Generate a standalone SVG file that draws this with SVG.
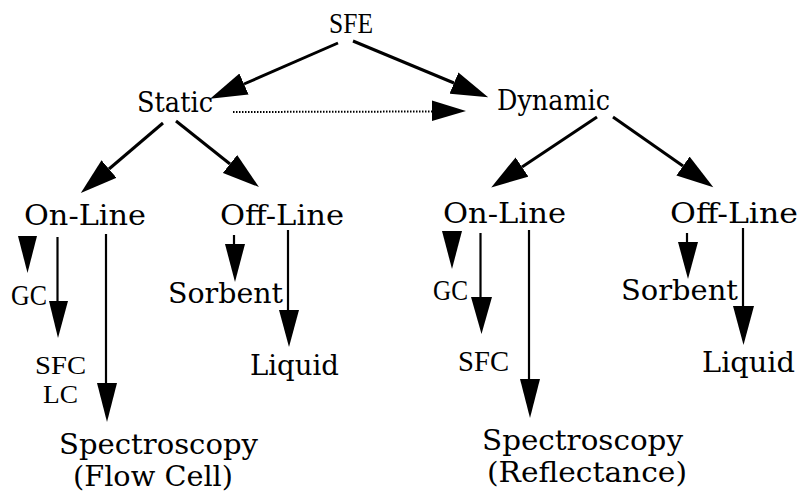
<svg xmlns="http://www.w3.org/2000/svg" width="803" height="500" viewBox="0 0 803 500">
  <style>
    text { font-family: "DejaVu Serif", "Liberation Serif", serif; font-size: 27px; fill: #000; }
    text.caps { font-family: "Liberation Serif", "DejaVu Serif", serif; font-size: 30px; }
    text.caps.tight { font-size: 26px; }
    .link { stroke: #000; stroke-width: 3; fill: none; }
    .drop { stroke: #000; stroke-width: 2.2; fill: none; }
    .dots { stroke: #000; stroke-width: 2; stroke-dasharray: 1.5 1.5; fill: none; }
    .head { fill: #000; }
  </style>
  <defs>
    <marker id="arrow" markerUnits="userSpaceOnUse" markerWidth="38" markerHeight="24" refX="0" refY="12" orient="auto">
      <path d="M0,0.5 L37,12 L0,23.5 z" fill="#000"/>
    </marker>
  </defs>
  <rect width="803" height="500" fill="#fff"/>

  <g id="connectors">
    <!-- top level -->
    <line class="link" x1="338" y1="43" x2="244" y2="84" marker-end="url(#arrow)"/>
    <line class="link" x1="353" y1="41" x2="454" y2="83" marker-end="url(#arrow)"/>
    <line class="dots" x1="233" y1="112" x2="432" y2="111.5"/>
    <polygon class="head" points="432,100.5 466,111 432,121"/>
    <!-- second level -->
    <line class="link" x1="163" y1="123" x2="109" y2="169" marker-end="url(#arrow)"/>
    <line class="link" x1="176" y1="121" x2="230" y2="164" marker-end="url(#arrow)"/>
    <line class="link" x1="597" y1="117" x2="522" y2="167" marker-end="url(#arrow)"/>
    <line class="link" x1="613" y1="117" x2="683" y2="166" marker-end="url(#arrow)"/>
    <!-- static on-line drops -->
    <polygon class="head" points="18,236 37,236 27.5,273"/>
    <line class="drop" x1="57.5" y1="237" x2="57.5" y2="302"/>
    <polygon class="head" points="49,301 68,301 58,338"/>
    <line class="drop" x1="106" y1="234" x2="106" y2="384"/>
    <polygon class="head" points="97,383 117,383 107,422"/>
    <!-- static off-line drops -->
    <line class="drop" x1="234" y1="235" x2="234" y2="245"/>
    <polygon class="head" points="225,244 245,244 235,282"/>
    <line class="drop" x1="288" y1="230" x2="288" y2="311"/>
    <polygon class="head" points="279,310 299,310 289,347"/>
    <!-- dynamic on-line drops -->
    <polygon class="head" points="442,231 462,231 452,269"/>
    <line class="drop" x1="480.5" y1="233" x2="480.5" y2="298"/>
    <polygon class="head" points="471,297 492,297 481.5,334"/>
    <line class="drop" x1="529" y1="230" x2="529" y2="380"/>
    <polygon class="head" points="520,379 540,379 530,418"/>
    <!-- dynamic off-line drops -->
    <line class="drop" x1="687" y1="233" x2="687" y2="243"/>
    <polygon class="head" points="678,242 698,242 688,279"/>
    <line class="drop" x1="743" y1="228" x2="743" y2="307"/>
    <polygon class="head" points="733,306 754,306 743.5,345"/>
  </g>

  <g id="sfe"><text class="caps" x="329" y="33" textLength="44" lengthAdjust="spacingAndGlyphs">SFE</text></g>
  <g id="static"><text x="137" y="112" textLength="76" lengthAdjust="spacingAndGlyphs">Static</text></g>
  <g id="dynamic"><text x="497" y="110" textLength="113" lengthAdjust="spacingAndGlyphs">Dynamic</text></g>

  <g id="static-online"><text x="24" y="225" textLength="122" lengthAdjust="spacingAndGlyphs">On-Line</text></g>
  <g id="static-offline"><text x="220" y="225" textLength="124" lengthAdjust="spacingAndGlyphs">Off-Line</text></g>
  <g id="dynamic-online"><text x="443" y="223" textLength="123" lengthAdjust="spacingAndGlyphs">On-Line</text></g>
  <g id="dynamic-offline"><text x="670" y="223" textLength="128" lengthAdjust="spacingAndGlyphs">Off-Line</text></g>

  <g id="static-gc"><text class="caps" x="11" y="305" textLength="36" lengthAdjust="spacingAndGlyphs">GC</text></g>
  <g id="static-sfc-lc">
    <text class="caps tight" x="35" y="374" textLength="51" lengthAdjust="spacingAndGlyphs">SFC</text>
    <text class="caps tight" x="43" y="403" textLength="35" lengthAdjust="spacingAndGlyphs">LC</text>
  </g>
  <g id="static-spectroscopy">
    <text x="59" y="454" textLength="199" lengthAdjust="spacingAndGlyphs">Spectroscopy</text>
    <text x="73" y="486" textLength="160" lengthAdjust="spacingAndGlyphs">(Flow Cell)</text>
  </g>
  <g id="static-sorbent"><text x="168" y="303" textLength="115" lengthAdjust="spacingAndGlyphs">Sorbent</text></g>
  <g id="static-liquid"><text x="250" y="375" textLength="89" lengthAdjust="spacingAndGlyphs">Liquid</text></g>

  <g id="dynamic-gc"><text class="caps" x="433" y="300" textLength="35" lengthAdjust="spacingAndGlyphs">GC</text></g>
  <g id="dynamic-sfc"><text class="caps" x="458" y="371" textLength="51" lengthAdjust="spacingAndGlyphs">SFC</text></g>
  <g id="dynamic-spectroscopy">
    <text x="482" y="450" textLength="201" lengthAdjust="spacingAndGlyphs">Spectroscopy</text>
    <text x="487" y="482" textLength="200" lengthAdjust="spacingAndGlyphs">(Reflectance)</text>
  </g>
  <g id="dynamic-sorbent"><text x="621" y="300" textLength="117" lengthAdjust="spacingAndGlyphs">Sorbent</text></g>
  <g id="dynamic-liquid"><text x="702" y="372" textLength="93" lengthAdjust="spacingAndGlyphs">Liquid</text></g>
</svg>
